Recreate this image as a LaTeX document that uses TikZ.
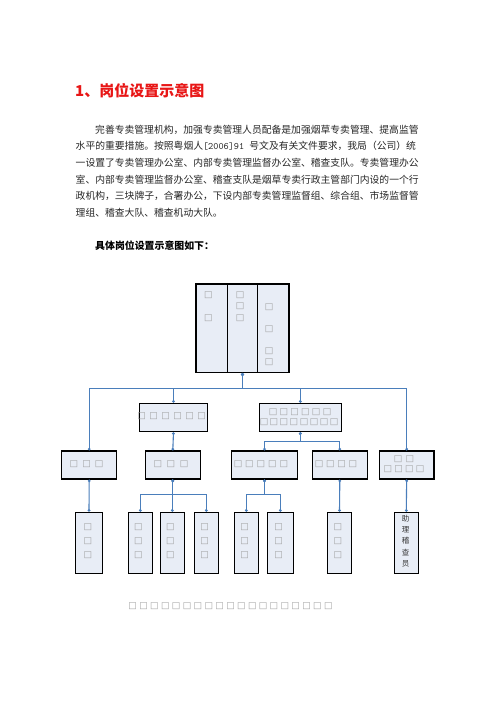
\documentclass[tikz,border=0pt]{standalone}
\usepackage{fontspec}
\setmainfont{Noto Sans CJK SC}
\newfontfamily\cjk{Noto Sans CJK SC}
\newfontfamily\dv{DejaVu Sans}
\usetikzlibrary{arrows.meta}
\definecolor{conncol}{RGB}{74,126,187}
\definecolor{boxfill}{RGB}{232,237,246}
\definecolor{sqcol}{RGB}{160,160,160}
\definecolor{titlered}{RGB}{232,22,22}
\newcommand\sq[1]{\makebox[#1pt]{□}}
\tikzset{
  orgbox/.style={draw=black, line width=1.1pt, fill=boxfill, inner sep=0pt, minimum height=28pt},
  conn/.style={draw=conncol, line width=1.1pt, {Circle[length=2.6pt]}-{Circle[length=2.6pt]}},
  sqtext/.style={text=sqcol, inner sep=0pt, font=\dv\fontsize{9}{11.5}\selectfont, align=center},
  para/.style={anchor=west, inner sep=0pt, font=\cjk\fontsize{9.8}{12}\selectfont, text=black!85},
}
\begin{document}
\begin{tikzpicture}[x=1pt,y=-1pt]
\useasboundingbox[fill=white] (0,0) rectangle (496,702);
% title and text
\node[anchor=west, inner sep=0pt, font=\cjk\bfseries\fontsize{15}{18}\selectfont, text=titlered] (title) at (75,90.7) {1、岗位设置示意图};
\node[para] (p1) at (95,129.5) {完善专卖管理机构，加强专卖管理人员配备是加强烟草专卖管理、提高监管};
\node[para] (p2) at (75.5,146.2) {水平的重要措施。按照粤烟人{\ttfamily\fontsize{9.8}{12}\selectfont[2006]91 }号文及有关文件要求，我局（公司）统};
\node[para] (p3) at (75.5,162.9) {一设置了专卖管理办公室、内部专卖管理监督办公室、稽查支队。专卖管理办公};
\node[para] (p4) at (75.5,179.6) {室、内部专卖管理监督办公室、稽查支队是烟草专卖行政主管部门内设的一个行};
\node[para] (p5) at (75.5,196.3) {政机构，三块牌子，合署办公，下设内部专卖管理监督组、综合组、市场监督管};
\node[para] (p6) at (75.5,213) {理组、稽查大队、稽查机动大队。};
\node[anchor=west, inner sep=0pt, font=\cjk\bfseries\fontsize{9.9}{12}\selectfont] (sub) at (95,245.7) {具体岗位设置示意图如下：};
% top box
\node[orgbox, minimum width=31.7pt, minimum height=88.7pt] (t1) at (211.85,328.3) {};
\node[orgbox, minimum width=29.6pt, minimum height=88.7pt] (t2) at (242.5,328.3) {};
\node[orgbox, minimum width=31.7pt, minimum height=88.7pt] (t3) at (273.15,328.3) {};
\node[sqtext, anchor=center] (t1s) at (208.3,306.5) {□\\\mbox{}\\□};
\node[sqtext, anchor=center] (t2s) at (240,306.5) {□\\□\\□};
\node[sqtext, anchor=center, font=\dv\fontsize{9}{11.1}\selectfont] (t3s) at (269,334.5) {□\\\mbox{}\\□\\\mbox{}\\□\\□};
% row 2
\node[orgbox, minimum width=68.4pt, minimum height=28.4pt] (a) at (173.5,417.5) {};
\node[orgbox, minimum width=82pt, minimum height=28.4pt] (b) at (300.3,417.5) {};
\node[sqtext] (as) at (171.7,416) {\sq{12}\sq{12}\sq{12}\sq{12}\sq{12}\sq{12}};
\node[sqtext] (bs1) at (300,412.3) {\sq{10.8}\sq{10.8}\sq{10.8}\sq{10.8}\sq{10.8}\sq{10.8}};
\node[sqtext] (bs2) at (299,422) {\sq{10}\sq{10}\sq{10}\sq{10}\sq{10}\sq{10}\sq{10}\sq{10}};
% row 3
\node[orgbox, minimum width=55pt] (c1) at (89.2,465) {};
\node[orgbox, minimum width=55pt] (c2) at (172.8,465) {};
\node[orgbox, minimum width=65.6pt] (c3) at (264.5,465) {};
\node[orgbox, minimum width=55pt] (c4) at (339.8,465) {};
\node[orgbox, minimum width=54.7pt] (c5) at (406.65,465) {};
\node[sqtext] (c1s) at (86.5,464.5) {\sq{12.5}\sq{12.5}\sq{12.5}};
\node[sqtext] (c2s) at (171,464.5) {\sq{13}\sq{13}\sq{13}};
\node[sqtext] (c3s) at (261,464.5) {\sq{11.5}\sq{11.5}\sq{11.5}\sq{11.5}\sq{11.5}};
\node[sqtext] (c4s) at (336,464.5) {\sq{11.3}\sq{11.3}\sq{11.3}\sq{11.3}};
\node[sqtext] (c5s1) at (404,459) {\sq{12}\sq{12}};
\node[sqtext] (c5s2) at (404,469.3) {\sq{10.7}\sq{10.7}\sq{10.7}\sq{10.7}};
% row 4
\node[orgbox, minimum width=26.6pt, minimum height=61pt] (d1) at (89,542.8) {};
\node[orgbox, minimum width=24pt, minimum height=61pt] (d2) at (140.3,542.8) {};
\node[orgbox, minimum width=24pt, minimum height=61pt] (d3) at (172.3,542.8) {};
\node[orgbox, minimum width=24pt, minimum height=61pt] (d4) at (206.3,542.8) {};
\node[orgbox, minimum width=24pt, minimum height=61pt] (d5) at (246.3,542.8) {};
\node[orgbox, minimum width=26pt, minimum height=61pt] (d6) at (280.3,542.8) {};
\node[orgbox, minimum width=24.4pt, minimum height=61pt] (d7) at (339.5,542.8) {};
\node[orgbox, minimum width=24pt, minimum height=61pt] (d8) at (406.3,542.8) {};
\foreach \n/\x in {1/88,2/138.5,3/170.5,4/204.5,5/244.5,6/278.5,7/337.8}{
  \node[sqtext, font=\dv\fontsize{9}{13.7}\selectfont] (d\n s) at (\x,541.3) {□\\□\\□};
}
\node[inner sep=0pt, align=center, text=black!80, font=\cjk\fontsize{7.5}{11.25}\selectfont] (d8s) at (405.5,541) {助\\理\\稽\\查\\员};
% bottom squares
\node[sqtext] (foot) at (230.5,606) {\sq{10.87}\sq{10.87}\sq{10.87}\sq{10.87}\sq{10.87}\sq{10.87}\sq{10.87}\sq{10.87}\sq{10.87}\sq{10.87}\sq{10.87}\sq{10.87}\sq{10.87}\sq{10.87}\sq{10.87}\sq{10.87}\sq{10.87}\sq{10.87}\sq{10.87}};
% connectors
\coordinate (hub) at (242.5,388.3);
\draw[conn] (t2.south) -- (hub) -| (c1.north);
\draw[conn] (t2.south) -- (hub) -| (a.north);
\draw[conn] (t2.south) -- (hub) -| (b.north);
\draw[conn] (t2.south) -- (hub) -| (c5.north);
\draw[conn] (a.south) -- (c2.north);
\draw[conn] (b.south) -- ++(0,9.5) -| (c3.north);
\draw[conn] (b.south) -- ++(0,9.5) -| (c4.north);
\draw[conn] (c1.south) -- (d1.north);
\draw[conn] (c2.south) -- ++(0,15.3) -| (d2.north);
\draw[conn] (c2.south) -- ++(0,15.3) -| (d3.north);
\draw[conn] (c2.south) -- ++(0,15.3) -| (d4.north);
\draw[conn] (c3.south) -- ++(0,15.3) -| (d5.north);
\draw[conn] (c3.south) -- ++(0,15.3) -| (d6.north);
\draw[conn] (c4.south) -- (d7.north);
\draw[conn] (c5.south) -- (d8.north);
\end{tikzpicture}
\end{document}
